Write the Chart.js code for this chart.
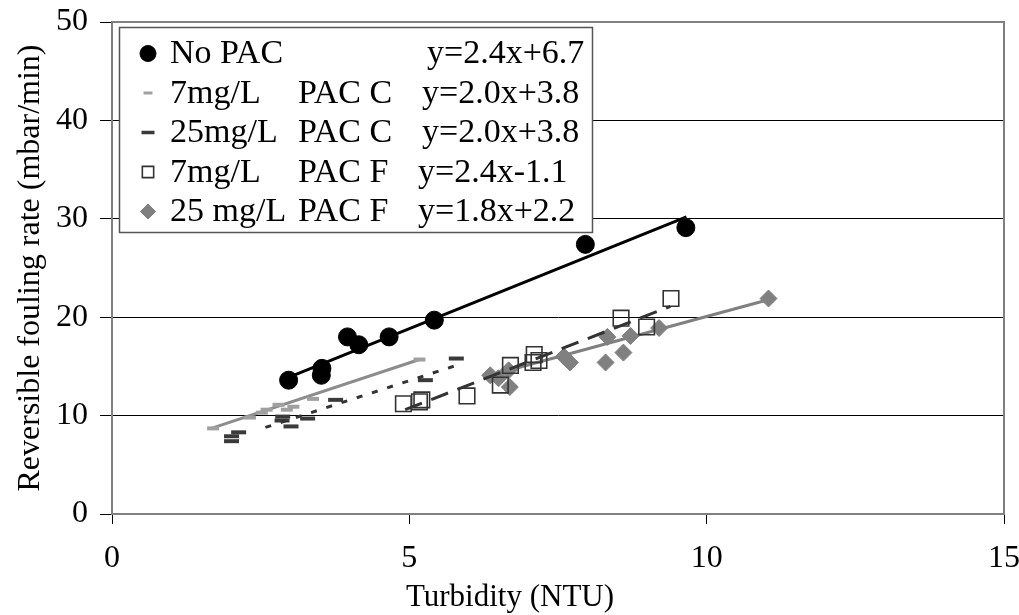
<!DOCTYPE html>
<html><head><meta charset="utf-8">
<script src="https://cdn.jsdelivr.net/npm/chart.js@4/dist/chart.umd.min.js"></script>
<style>html,body{margin:0;padding:0;background:#fff}#wrap{width:1019px;height:615px;position:relative}</style>
</head><body><div id="wrap"><canvas id="c"></canvas></div>
<script>
// ---- data ----
const noPacX = [2.97, 3.53, 3.52, 3.96, 4.15, 4.66, 5.42, 7.96, 9.65];
const noPacY = [13.6, 14.8, 14.1, 18.0, 17.2, 18.0, 19.7, 27.4, 29.1];

const pacC7X = [1.70, 2.32, 2.52, 2.60, 2.80, 2.94, 3.05, 3.38, 5.17];
const pacC7Y = [8.7, 9.8, 10.3, 10.6, 11.1, 10.6, 10.9, 11.7, 15.7];

const pacC25X = [2.01, 2.01, 2.13, 2.86, 2.87, 3.01, 3.29, 3.76, 5.27, 5.79];
const pacC25Y = [7.4, 7.9, 8.3, 9.5, 9.9, 8.9, 9.7, 11.6, 13.6, 15.8];

const pacF7X = [4.90, 5.17, 5.21, 5.97, 6.53, 6.70, 7.08, 7.10, 7.18, 8.56, 8.99, 9.40];
const pacF7Y = [11.2, 11.4, 11.6, 12.0, 13.1, 15.1, 15.4, 16.2, 15.6, 19.9, 19.0, 21.9];

const pacF25X = [6.36, 6.50, 6.67, 6.69, 7.60, 7.70, 8.30, 8.33, 8.60, 8.72, 9.20, 11.04];
const pacF25Y = [14.1, 13.8, 14.6, 12.9, 16.0, 15.4, 15.4, 18.0, 16.4, 18.1, 18.9, 21.9];

// trend line end points
const noPacFitX = [2.98, 9.66];   const noPacFitY = [13.9, 30.2];
const pacC7FitX = [1.67, 5.17];   const pacC7FitY = [8.7, 15.7];
const pacC25FitX = [2.58, 5.79];  const pacC25FitY = [8.8, 15.1];
const pacF7FitX = [4.93, 9.39];   const pacF7FitY = [10.6, 21.1];
const pacF25FitX = [6.30, 11.05]; const pacF25FitY = [14.0, 21.8];

const legendNames = ['No PAC', '7mg/L', '25mg/L', '7mg/L', '25 mg/L'];
const legendPac = ['', 'PAC C', 'PAC C', 'PAC F', 'PAC F'];
const legendEq = ['y=2.4x+6.7', 'y=2.0x+3.8', 'y=2.0x+3.8', 'y=2.4x-1.1', 'y=1.8x+2.2'];

const xTitle = 'Turbidity (NTU)';
const yTitle = 'Reversible fouling rate (mbar/min)';
const xTicks = [0, 5, 10, 15];
const yTicks = [0, 10, 20, 30, 40, 50];

const pts = (xs, ys) => xs.map((x, i) => ({x: x, y: ys[i]}));
const SERIF = "'Liberation Serif', 'Times New Roman', serif";

function fit(xs, ys, color, width, dash) {
  return {type: 'scatter', data: pts(xs, ys), showLine: true, borderColor: color, borderWidth: width,
          borderDash: dash, pointRadius: 0, pointHoverRadius: 0, fill: false};
}

const markerSets = [
  {label: 'No PAC', data: pts(noPacX, noPacY), pointStyle: 'circle', pointRadius: 9,
   backgroundColor: '#000', borderColor: '#000', borderWidth: 1},
  {label: '7mg/L PAC C', data: pts(pacC7X, pacC7Y), pointStyle: 'line', pointRadius: 6,
   backgroundColor: '#a0a0a0', borderColor: '#a0a0a0', borderWidth: 4},
  {label: '25mg/L PAC C', data: pts(pacC25X, pacC25Y), pointStyle: 'line', pointRadius: 7.5,
   backgroundColor: '#3a3a3a', borderColor: '#3a3a3a', borderWidth: 4},
  {label: '7mg/L PAC F', data: pts(pacF7X, pacF7Y), pointStyle: 'rect', pointRadius: 11,
   backgroundColor: 'rgba(255,255,255,0)', borderColor: '#333', borderWidth: 1.6},
  {label: '25 mg/L PAC F', data: pts(pacF25X, pacF25Y), pointStyle: 'rectRot', pointRadius: 8.5,
   backgroundColor: '#808080', borderColor: '#808080', borderWidth: 1}
];

const datasets = [
  fit(pacC25FitX, pacC25FitY, '#333', 3, [6, 10]),
  fit(pacF7FitX, pacF7FitY, '#333', 3, [18, 10]),
  ...markerSets,
  fit(noPacFitX, noPacFitY, '#000', 3, []),
  fit(pacC7FitX, pacC7FitY, '#8c8c8c', 3, []),
  fit(pacF25FitX, pacF25FitY, '#808080', 3, [])
];

const framePlugin = {
  id: 'frame',
  beforeDatasetsDraw(chart) {
    const a = chart.chartArea, ctx = chart.ctx;
    ctx.save();
    ctx.strokeStyle = '#808080';
    ctx.lineWidth = 2;
    ctx.strokeRect(a.left, a.top, a.right - a.left, a.bottom - a.top);
    ctx.restore();
  }
};

const legendPlugin = {
  id: 'boxLegend',
  afterDraw(chart) {
    const ctx = chart.ctx;
    ctx.save();
    // x axis title, centred on the whole figure as in the reference
    ctx.fillStyle = '#000';
    ctx.font = '31px ' + SERIF;
    ctx.textAlign = 'center';
    ctx.textBaseline = 'middle';
    ctx.fillText(xTitle, 510, 598);
    // legend box
    ctx.fillStyle = '#fff';
    ctx.fillRect(119, 27, 473, 205);
    ctx.strokeStyle = '#555';
    ctx.lineWidth = 1.5;
    ctx.strokeRect(119.5, 27.5, 473, 205);
    const markerSizes = [8, 4.5, 6.5, 8, 7.5];
    const col3 = [427, 422, 422, 418, 418];
    ctx.font = '34px ' + SERIF;
    ctx.textBaseline = 'alphabetic';
    ctx.textAlign = 'left';
    for (let i = 0; i < markerSets.length; i++) {
      const ds = markerSets[i];
      const base = 63 + i * 39.5;
      const cy = base - 9.5;
      ctx.save();
      ctx.fillStyle = ds.backgroundColor;
      ctx.strokeStyle = ds.borderColor;
      ctx.lineWidth = ds.pointStyle === 'line' ? (i === 1 ? 3 : 3.5) : ds.borderWidth;
      Chart.helpers.drawPoint(ctx, {pointStyle: ds.pointStyle, radius: markerSizes[i], rotation: 0, borderWidth: ctx.lineWidth}, 148, cy);
      ctx.restore();
      ctx.fillStyle = '#000';
      ctx.fillText(legendNames[i], 170, base);
      if (legendPac[i]) ctx.fillText(legendPac[i], 298, base);
      ctx.fillText(legendEq[i], col3[i], base);
    }
    ctx.restore();
  }
};

new Chart(document.getElementById('c'), {
  type: 'scatter',
  data: {datasets: datasets},
  plugins: [framePlugin, legendPlugin],
  options: {
    responsive: true,
    maintainAspectRatio: false,
    animation: false,
    events: [],
    layout: {padding: {top: 22, right: 15, left: 0, bottom: 0}},
    plugins: {
      legend: {display: false},
      tooltip: {enabled: false},
      title: {display: false}
    },
    scales: {
      x: {
        type: 'linear', min: 0, max: 15,
        afterBuildTicks(s) { s.ticks = xTicks.map(v => ({value: v})); },
        afterFit(s) { s.height = 615 - 514; s.paddingLeft = 0; s.paddingRight = 0; },
        ticks: {color: '#000', font: {family: SERIF, size: 32}, padding: 15, maxRotation: 0},
        grid: {drawOnChartArea: false, drawTicks: true, tickLength: 10, color: '#000', lineWidth: 1},
        border: {display: true, color: '#808080', width: 2}
      },
      y: {
        type: 'linear', min: 0, max: 50,
        afterBuildTicks(s) { s.ticks = yTicks.map(v => ({value: v})); },
        afterFit(s) { s.width = 112; s.paddingTop = 0; s.paddingBottom = 0; },
        ticks: {color: '#000', font: {family: SERIF, size: 32}, padding: 12},
        grid: {drawOnChartArea: true, drawTicks: true, tickLength: 12, color: '#000', lineWidth: 1},
        border: {display: true, color: '#808080', width: 2},
        title: {display: true, text: yTitle, color: '#000',
                font: {family: SERIF, size: 32, weight: 'normal'}, padding: {top: 11, bottom: 0}}
      }
    }
  }
});
</script>
</body></html>
